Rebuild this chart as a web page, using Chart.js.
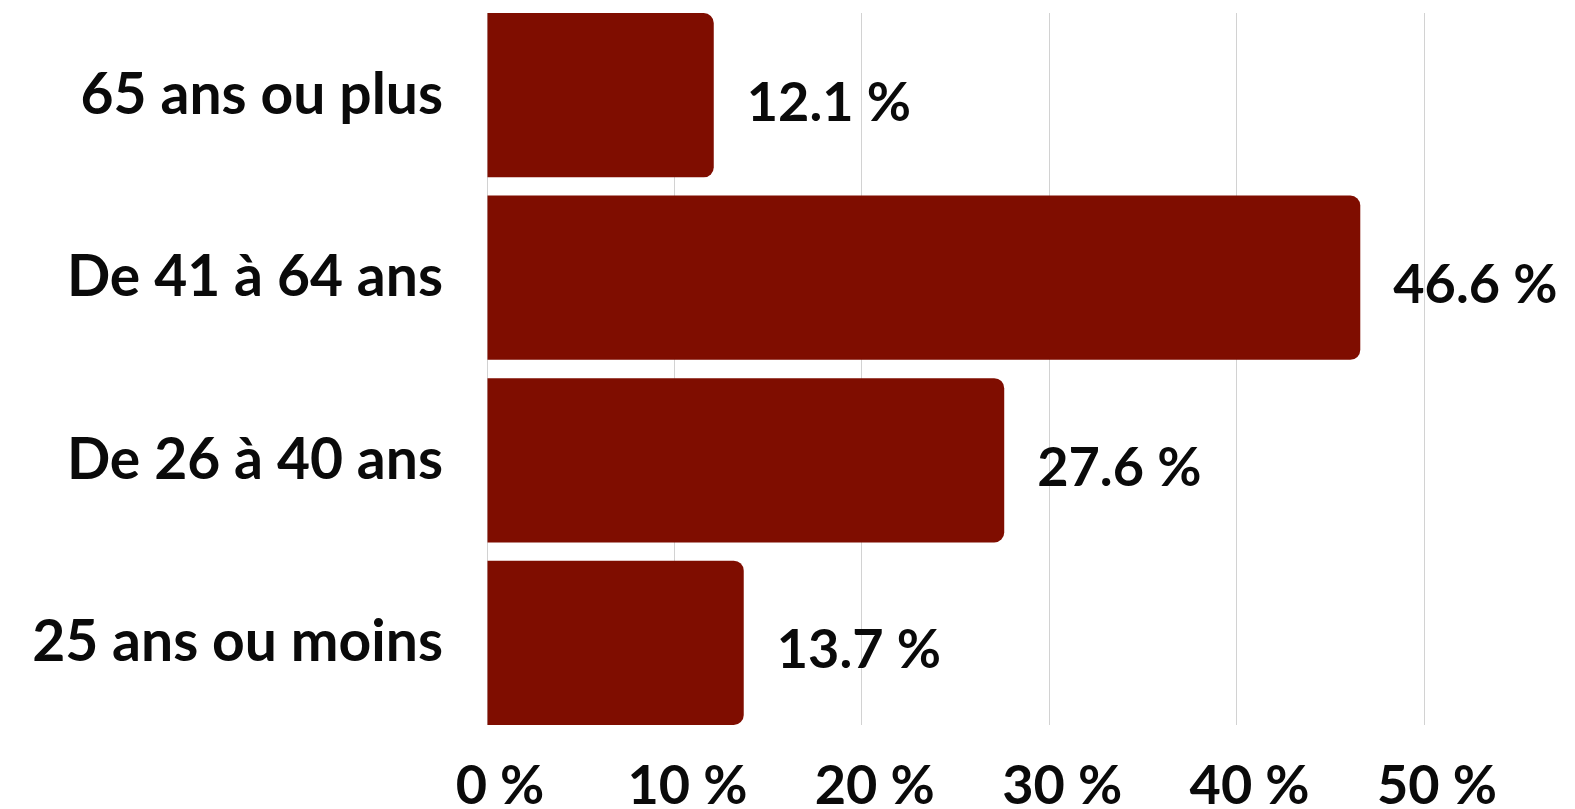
<!DOCTYPE html>
<html lang="fr">
<head>
<meta charset="utf-8">
<title>Répartition par âge</title>
<script src="https://cdn.jsdelivr.net/npm/chart.js@4/dist/chart.umd.min.js"></script>
<style>
  html, body { margin: 0; padding: 0; background: #ffffff; }
  #wrap { width: 1575px; height: 809px; position: relative; }
</style>
</head>
<body>
<div id="wrap"><canvas id="chart"></canvas></div>
<script>
// Age groups, listed top to bottom
const categories = ['65 ans ou plus', 'De 41 à 64 ans', 'De 26 à 40 ans', '25 ans ou moins'];
// Share of each group, in percent
const shares = [12.1, 46.6, 27.6, 13.7];
// Percent ticks along the value axis
const tickValues = [0, 10, 20, 30, 40, 50];

const FONT = '"Lato", "Noto Sans", sans-serif';
const WEIGHT = '700';
const BAR_COLOR = '#7f0d00';
const TEXT_COLOR = '#0a0a0a';

// Writes "xx.x %" just past the end of each bar
const valueLabels = {
  id: 'valueLabels',
  afterDatasetsDraw(chart) {
    const ctx = chart.ctx;
    const meta = chart.getDatasetMeta(0);
    ctx.save();
    ctx.font = WEIGHT + ' 54px ' + FONT;
    ctx.fillStyle = TEXT_COLOR;
    ctx.textAlign = 'left';
    ctx.textBaseline = 'middle';
    meta.data.forEach((bar, i) => {
      const v = chart.data.datasets[0].data[i].x;
      ctx.fillText(v.toFixed(1) + ' %', bar.x + 33, bar.y + 8);
    });
    ctx.restore();
  }
};

new Chart(document.getElementById('chart'), {
  type: 'bar',
  data: {
    datasets: [{
      data: shares.map((v, i) => ({ x: v, y: i })),
      backgroundColor: BAR_COLOR,
      borderRadius: 10,
      borderSkipped: 'start',
      barPercentage: 0.9,
      categoryPercentage: 1
    }]
  },
  options: {
    indexAxis: 'y',
    responsive: true,
    maintainAspectRatio: false,
    animation: false,
    layout: { padding: { top: 13, right: 151, left: 0, bottom: 0 } },
    plugins: { legend: { display: false }, tooltip: { enabled: false } },
    scales: {
      x: {
        type: 'linear',
        min: 0,
        max: 50,
        afterBuildTicks: (scale) => { scale.ticks = tickValues.map(v => ({ value: v })); },
        afterFit: (scale) => { scale.height = 84; },
        grid: { color: '#d2d2d2', lineWidth: 1, drawTicks: false },
        border: { display: false },
        ticks: {
          padding: 29,
          labelOffset: 13,
          color: TEXT_COLOR,
          font: { family: FONT, size: 54, weight: WEIGHT },
          callback: (v) => v + ' %'
        }
      },
      y: {
        type: 'linear',
        reverse: true,
        offset: false,
        min: -0.45,
        max: categories.length - 0.55,
        afterFit: (scale) => {
          scale.width = 487;
          scale.paddingTop = 0;
          scale.paddingBottom = 0;
        },
        grid: { display: false, drawTicks: false, offset: false },
        border: { display: false },
        ticks: {
          stepSize: 1,
          includeBounds: false,
          padding: 44,
          color: TEXT_COLOR,
          font: { family: FONT, size: 57, weight: WEIGHT },
          callback: (v) => Number.isInteger(v) ? categories[v] : ''
        }
      }
    }
  },
  plugins: [valueLabels]
});
</script>
</body>
</html>
